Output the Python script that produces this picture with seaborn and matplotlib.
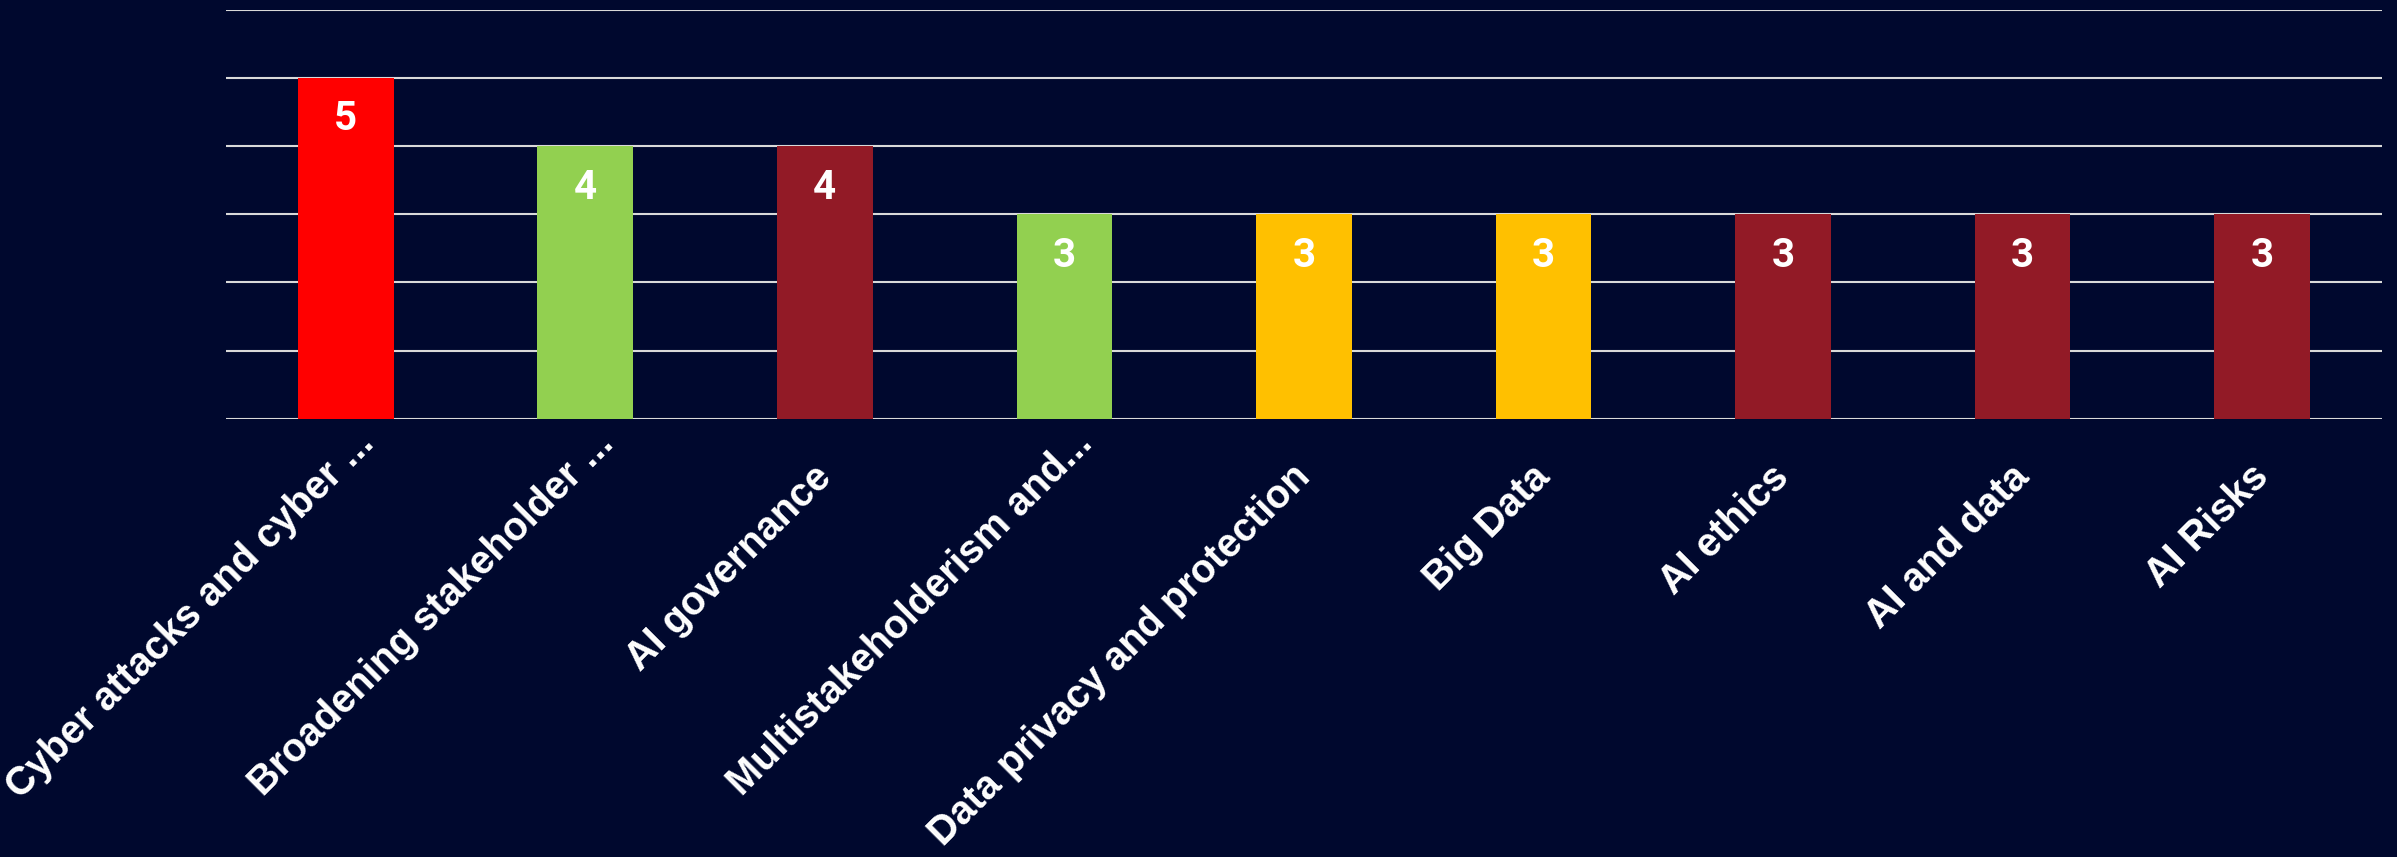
import pandas as pd
import matplotlib.pyplot as plt
import matplotlib.transforms as mtransforms
import seaborn as sns

topics = ['Cyber attacks and cyber ...', 'Broadening stakeholder ...', 'AI governance',
          'Multistakeholderism and...', 'Data privacy and protection', 'Big Data',
          'AI ethics', 'AI and data', 'AI Risks']
counts = [5, 4, 4, 3, 3, 3, 3, 3, 3]
bar_colors = ['#FF0000', '#92D050', '#921A26', '#92D050', '#FFC000', '#FFC000',
              '#921A26', '#921A26', '#921A26']

bg = '#00082E'
df = pd.DataFrame({'topic': topics, 'count': counts})

sns.set_style('dark')
fig = plt.figure(figsize=(23.97, 8.57), dpi=100, facecolor=bg)
ax = fig.add_axes([0.0943, 0.5111, 0.8994, 0.4778])
ax.set_facecolor(bg)

sns.barplot(data=df, x='topic', y='count', hue='topic',
            palette=dict(zip(topics, bar_colors)), width=0.4,
            legend=False, saturation=1, linewidth=0, ax=ax, zorder=3)

ax.set_xlim(-0.5, len(topics) - 0.5)
ax.set_ylim(0, 6)
ax.set_yticks(range(0, 7))
ax.set_yticklabels([])
ax.grid(axis='y', color='#D9D9D9', linewidth=1.5, zorder=0)
ax.grid(axis='x', visible=False)
for s in ax.spines.values():
    s.set_visible(False)
ax.set_xlabel('')
ax.set_ylabel('')
ax.tick_params(axis='both', length=0)
ax.tick_params(axis='x', pad=0)

# rotated labels end a bit right of the tick; truncated ones sit higher
for lab in ax.get_xticklabels():
    lab.set_rotation(45)
    lab.set_rotation_mode('anchor')
    lab.set_ha('right')
    lab.set_va('baseline')
    lab.set_color('white')
    lab.set_fontsize(28.5)
    lab.set_fontweight('bold')
    lab.set_family(['Liberation Sans', 'DejaVu Sans'])
    if lab.get_text().endswith('...'):
        dx, dy = 30, -26
    else:
        dx, dy = 8, -60
    shift = mtransforms.ScaledTranslation(dx / 100, dy / 100, fig.dpi_scale_trans)
    lab.set_transform(lab.get_transform() + shift)

for cont in ax.containers:
    texts = ax.bar_label(cont, padding=-30, color='white', fontsize=29,
                         fontweight='bold', family=['Roboto', 'DejaVu Sans'])
    for t in texts:
        t.set_va('center')

fig.savefig('out.png', dpi=100, facecolor=bg)
